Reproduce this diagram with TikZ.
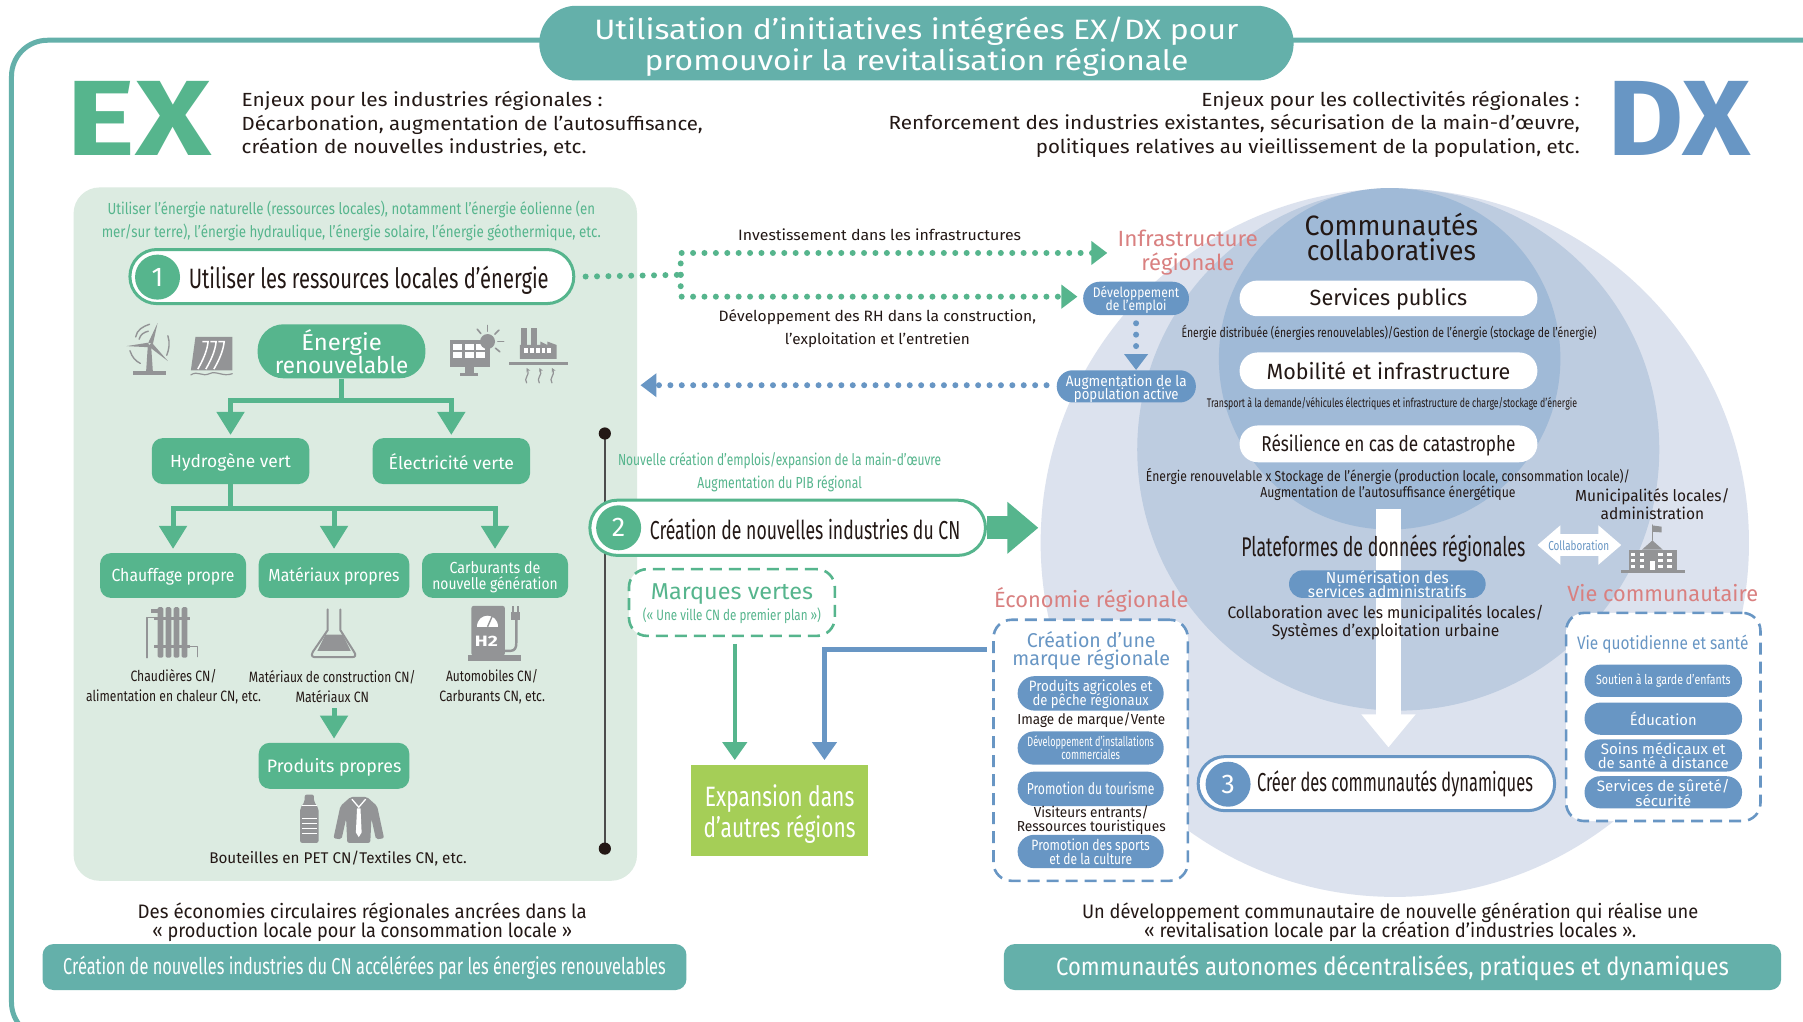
\documentclass[tikz,border=0pt]{standalone}
\usepackage{fontspec}
\usepackage{graphicx}
\setmainfont{Fira Sans}
\usetikzlibrary{arrows.meta,calc}
\definecolor{teal}{HTML}{64B0AA}
\definecolor{grn}{HTML}{56B58D}
\definecolor{panel}{HTML}{DCEBE1}
\definecolor{blu}{HTML}{6896C4}
\definecolor{pnk}{HTML}{D98080}
\definecolor{ink}{HTML}{231815}
\definecolor{icn}{HTML}{939496}
\definecolor{c1}{HTML}{DCE2EE}
\definecolor{c2}{HTML}{BDCCE0}
\definecolor{c3}{HTML}{A0BAD7}
\definecolor{lime}{HTML}{A5CE57}
\lineskiplimit=-100pt
\newsavebox\wbx
\def\wsh{0pt}
\newcommand\Sh[1]{\def\wsh{#1pt}}
\newcommand\W[2]{\sbox\wbx{#2}\pgfmathsetmacro\wrr{#1*1.15/\wd\wbx}\raisebox{-\wsh}[\ht\wbx][\dp\wbx]{\scalebox{\wrr}[1]{\usebox\wbx}}}
\newcommand\fs[2]{\fontsize{#1}{#2}\selectfont}
\tikzset{
  wh/.style 2 args={minimum width=#1*1.15pt,minimum height=#2*1.15pt},
  txt/.style={inner sep=0pt,align=center,text=ink},
  lbl/.style={txt,text=#1},
  fbox/.style 2 args={draw=none,fill=#1,inner sep=0pt,align=center,text=#2},
  gbox/.style 2 args={fbox={grn}{white},wh={#1}{#2},rounded corners=11pt},
  bpill/.style 2 args={fbox={blu}{white},wh={#1}{#2},rounded corners=#2*0.57pt},
  wpill/.style 2 args={fbox={white}{ink},wh={#1}{#2},rounded corners=#2*0.57pt},
  stepo/.style n args={3}{draw=#1,line width=3pt,fill=white,inner sep=0pt,align=center,text=ink,wh={#2}{#3},rounded corners=#3*0.57pt},
  numc/.style={circle,fill=#1,text=white,inner sep=0pt,minimum size=45pt,font=\fs{27}{27}},
  tree/.style={draw=grn,line width=5pt,-{Triangle[length=23pt,width=27pt]}},
  gdots/.style={draw=grn,line width=6pt,line cap=round,dash pattern=on 0pt off 11.4pt,-{Triangle[length=16pt,width=23pt]}},
  bdots/.style={draw=blu,line width=6pt,line cap=round,dash pattern=on 0pt off 11.4pt,-{Triangle[length=16pt,width=23pt]}},
  dashb/.style={draw=#1,line width=2.6pt,dash pattern=on 12pt off 7pt,fill=white,rounded corners=18pt,inner sep=0pt,align=center},
  icl/.style={draw=icn,line width=#1,line cap=round,line join=round},
}
\begin{document}
\begin{tikzpicture}[x=1.15pt,y=-1.15pt]
\useasboundingbox (0,0) rectangle (1568,888);
\fill[white] (0,0) rectangle (1568,888);
% frame
\draw[teal,line width=5pt,rounded corners=36pt] (10,35) rectangle (1600,903);
% title
\node[fbox={teal}{white},wh={656}{65},rounded corners=37pt,font=\Sh{3.4}\fs{28}{31.5}] (title) at (797,37.5) {\W{560}{Utilisation d'initiatives intégrées EX/DX pour}\\\W{473}{promouvoir la revitalisation régionale}};
% EX DX
\node[lbl=grn,font=\bfseries\fs{107}{107}] (ex) at (121,103) {\W{126}{EX}};
\node[lbl=blu,font=\bfseries\fs{107}{107}] (dx) at (1460,103) {\W{124}{DX}};
\node[txt,align=left,anchor=west,font=\fs{19}{23.6}] (hl) at (210,108) {\W{314}{Enjeux pour les industries régionales :}\\\W{401}{Décarbonation, augmentation de l'autosuffisance,}\\\W{300}{création de nouvelles industries, etc.}};
\node[txt,align=right,anchor=east,font=\fs{19}{23.6}] (hr) at (1374,108) {\W{329}{Enjeux pour les collectivités régionales :}\\\W{601}{Renforcement des industries existantes, sécurisation de la main-d'œuvre,}\\\W{473}{politiques relatives au vieillissement de la population, etc.}};
% circles
\fill[c1] (1213,472) circle (308);
\fill[c2] (1216,391) circle (227);
\fill[c3] (1208.5,312) circle (148.5);
% green panel
\fill[panel,rounded corners=26pt] (64,163) rectangle (554,766);
\node[lbl=grn,font=\fs{16}{23}] (ptop) at (305.5,192) {\W{424}{Utiliser l'énergie naturelle (ressources locales), notamment l'énergie éolienne (en}\\\W{434}{mer/sur terre), l'énergie hydraulique, l'énergie solaire, l'énergie géothermique, etc.}};
% vertical line
\coordinate (lt) at (526,377);
\coordinate (lb) at (526,738);
\draw[black!70,line width=2pt] (lt) -- (lb);
\fill[ink] (lt) circle (5.3);
\fill[ink] (lb) circle (5.3);
% step 1
\node[stepo={grn}{386}{47}] (s1) at (306,240.5) {};
\node[numc=grn] (n1) at (137,241) {1};
\node[txt,anchor=west,font=\fs{28}{28}] (s1t) at (164,244) {\W{313}{Utiliser les ressources locales d'énergie}};
% energy
\node[fbox={grn}{white},wh={146}{47},rounded corners=26pt,font=\fs{23}{23}] (enr) at (297,305.5) {\W{70}{Énergie}\\\W{116}{renouvelable}};
\node[gbox={137}{40},font=\Sh{1}\fs{17.5}{17}] (hyd) at (200.5,401) {\W{105}{Hydrogène vert}};
\node[gbox={137}{40},font=\Sh{1}\fs{17.5}{17}] (ele) at (392.5,401) {\W{109}{Électricité verte}};
\coordinate (j1) at (297,348);
\draw[tree,shorten >=3pt] (enr.south) -- (j1) -| (hyd.north);
\draw[tree,shorten >=3pt] (j1) -| (ele.north);
\node[gbox={127}{39},font=\Sh{1}\fs{17.5}{16}] (chf) at (150.5,500.5) {\W{107}{Chauffage propre}};
\node[gbox={131}{39},font=\Sh{1}\fs{17.5}{16}] (mat) at (290.5,500.5) {\W{114}{Matériaux propres}};
\node[gbox={127}{39},font=\Sh{2}\fs{16}{16}] (car) at (430.5,500.5) {\W{79}{Carburants de}\\\W{109}{nouvelle génération}};
\coordinate (j2) at (200.5,442);
\draw[tree,shorten >=4pt] (hyd.south) -- (j2) -| (chf.north);
\draw[tree,shorten >=4pt] (j2) -| (mat.north);
\draw[tree,shorten >=4pt] (j2) -| (car.north);
\node[txt,font=\fs{15}{20}] (lc) at (151,597) {\W{75}{Chaudières CN/}\\\W{152}{alimentation en chaleur CN, etc.}};
\node[txt,font=\fs{15}{20}] (lm) at (289,597) {\W{145}{Matériaux de construction CN/}\\\W{64}{Matériaux CN}};
\node[txt,font=\fs{15}{20}] (la) at (428,597) {\W{80}{Automobiles CN/}\\\W{92}{Carburants CN, etc.}};
\node[gbox={131}{40},font=\Sh{2}\fs{18}{17}] (pro) at (290.5,666) {\W{117}{Produits propres}};
\coordinate (ma) at (290.5,616);
\draw[tree,shorten >=4pt] (ma) -- (pro.north);
\node[txt,font=\fs{15.5}{15}] (lp) at (294,747) {\W{224}{Bouteilles en PET CN/Textiles CN, etc.}};
% --- icons: turbine
\fill[icn] (116,323) rectangle (144,326);
\fill[icn] (128.6,300) -- (131.4,300) -- (133,324) -- (127,324) -- cycle;
\fill[icn] (129,298) -- (137,281) -- (133,299) -- cycle;
\fill[icn] (129,298) -- (110,301) -- (130,302) -- cycle;
\fill[icn] (129,301) -- (146,314) -- (132,298) -- cycle;
\draw[icl=1.4pt] (118,293) .. controls (119,287) and (124,284) .. (130,282);
\draw[icl=1.4pt] (121,295) .. controls (122,291) and (125,289) .. (129,288);
\draw[icl=1.4pt] (146,292) .. controls (148,298) and (147,304) .. (145,309);
\draw[icl=1.4pt] (113,305) .. controls (115,311) and (118,314) .. (122,316);
% dam
\fill[icn] (170,293) -- (202,293) -- (202,322) -- (166,322) -- cycle;
\draw[white,line width=1.5pt] (176,297) -- (181,297) .. controls (180,306) and (176,314) .. (172,321);
\draw[white,line width=1.5pt] (183,297) -- (188,297) .. controls (187,306) and (183,314) .. (179,321);
\draw[white,line width=1.5pt] (190,297) -- (195,297) .. controls (194,306) and (190,314) .. (186,321);
\draw[icl=1.2pt] (166,326) .. controls (172,322) and (176,328) .. (182,325) .. controls (188,322) and (194,328) .. (202,325);
% solar
\fill[icn] (391,296) rectangle (426,319);
\fill[white] (394,299) rectangle (402,304); \fill[white] (404,299) rectangle (412,304); \fill[white] (414,299) rectangle (422,304);
\fill[white] (394,306) rectangle (402,311); \fill[white] (404,306) rectangle (412,311); \fill[white] (414,306) rectangle (422,311);
\fill[icn] (404,319) rectangle (412,324); \fill[icn] (400,324) rectangle (416,327);
\fill[icn] (424,297) circle (6.5);
\foreach \a in {-130,-90,-45,0,40} {\draw[icl=1.6pt] ($(424,297)+(\a:9)$) -- ($(424,297)+(\a:14)$);}
% factory
\fill[icn] (453,285) rectangle (458,302); \fill[icn] (462,285) rectangle (467,302);
\fill[icn] (452,300) -- (470,300) -- (470,297) -- (476,300) -- (476,297) -- (484,300) -- (484,312) -- (452,312) -- cycle;
\foreach \x in {456,461,466,471,476} {\fill[white] (\x,303) rectangle ++(3.2,4);}
\fill[icn] (443,314.5) rectangle (494,317);
\foreach \x in {458,469,480} {\draw[icl=1.2pt,-{Stealth[length=4pt,width=4pt]}] (\x,333) .. controls (\x-3,329) and (\x+3,326) .. (\x,320);}
% radiator
\foreach \x in {137,144,151,158} {\fill[icn,rounded corners=1.5pt] (\x,528) rectangle ++(5,44);}
\fill[icn] (134,537) rectangle (165,539.5); \fill[icn] (134,561) rectangle (165,563.5);
\draw[icl=1.4pt] (128,572) -- (128,537) -- (134,537);
\draw[icl=1.4pt] (165,562) -- (172,562) -- (172,571);
\fill[icn] (131,530) rectangle (137,533);
% flask
\draw[icl=2pt] (285,530) -- (285,548) -- (272,567) .. controls (270,571) and (272,571.5) .. (275,571.5) -- (306,571.5) .. controls (309,571.5) and (310,570) .. (308,567) -- (296,548) -- (296,530);
\fill[icn] (283,552) -- (298,552) -- (305,566) -- (276,566) -- cycle;
% pump
\fill[icn,rounded corners=2pt] (410,527) rectangle (439,570);
\fill[icn] (407,570) rectangle (453,574.5);
\fill[white] (415,545) .. controls (415,532) and (433,532) .. (433,545) -- cycle;
\draw[icn,line width=1.4pt] (424,545) -- (428,536);
\node[lbl=white,font=\bfseries\fs{15}{15}] (h2) at (423,558) {\W{20}{H2}};
\draw[icl=2.4pt] (439,566) -- (444,566) .. controls (448,566) and (449,563) .. (449,559) -- (449,538);
\fill[icn] (444,532) rectangle (452.5,539); \fill[icn] (445.5,527) rectangle (447,532); \fill[icn] (449.5,527) rectangle (451,532);
% bottle
\fill[icn,rounded corners=2pt] (261,703) -- (265,697) -- (265,691) -- (273,691) -- (273,697) -- (277,703) -- (277,733) -- (261,733) -- cycle;
\foreach \y in {700,711,716,720,724} {\fill[white] (262.5,\y) rectangle (275.5,\y+1);}
% shirt
\fill[icn,rounded corners=2pt] (305,693) -- (319,693) -- (328,701) -- (334,729) -- (327,730) -- (323,712) -- (322,733) -- (302,733) -- (301,712) -- (297,730) -- (290,729) -- (296,701) -- cycle;
\draw[white,line width=1.3pt] (306,695) -- (312,702) -- (318,695);
\fill[white] (310.5,703) -- (313.5,703) -- (314.5,724) -- (312,728) -- (309.5,724) -- cycle;
% dotted green
\coordinate (dj) at (592,239);
\coordinate (t1) at (963,220);
\coordinate (t2) at (937,258);
\draw[gdots,-] (s1.east) ++(9,0) -- (dj);
\draw[gdots] (dj) |- (t1);
\draw[gdots] (dj) |- (t2);
\node[txt,font=\fs{15}{15}] (inv) at (765,204) {\W{246}{Investissement dans les infrastructures}};
\node[txt,font=\fs{15}{23}] (rh) at (763,286) {\W{276}{Développement des RH dans la construction,}\\\W{161}{l'exploitation et l'entretien}};
\node[lbl=pnk,font=\fs{22}{24}] (inf) at (1033,220) {\W{122}{Infrastructure}\\\W{81}{régionale}};
\node[bpill={92}{29},font=\Sh{1}\fs{14}{13}] (dev) at (988,259.5) {\W{75}{Développement}\\\W{53}{de l'emploi}};
\node[bpill={121}{28},font=\Sh{2}\fs{15}{13}] (aug) at (979.5,336) {\W{105}{Augmentation de la}\\\W{91}{population active}};
\coordinate (bt) at (557,335);
\draw[bdots,shorten <=8pt] (dev.south) -- (aug.north -| dev.south);
\draw[bdots,shorten <=10pt] (aug.west |- bt) -- (bt);
% green texts
\node[lbl=grn,font=\fs{16}{23}] (nc) at (678,411) {\W{281}{Nouvelle création d'emplois/expansion de la main-d'œuvre}\\\W{143}{Augmentation du PIB régional}};
% step 2
\coordinate (bg) at (903,459);
\node[stepo={grn}{344}{48}] (s2) at (685,459) {};
\draw[grn,line width=23pt,-{Triangle[length=31pt,width=50pt]}] (s2.east) -- (bg);
\node[numc=grn] (n2) at (538,459) {2};
\node[txt,anchor=west,font=\fs{26}{26}] (s2t) at (565,460) {\W{270}{Création de nouvelles industries du CN}};
% marques
\node[dashb=grn,wh={179}{58},text=grn,font=\Sh{1.5}\fs{23}{21}] (mv) at (636.5,524) {\W{141}{Marques vertes}\\\W{155}{\fs{15}{21}(« Une ville CN de premier plan »)}};
% expansion
\node[fbox={lime}{white},wh={154}{79},font=\Sh{4}\fs{28}{31}] (exp) at (678,704.5) {\W{130}{Expansion dans}\\\W{132}{d'autres régions}};
\coordinate (ga) at (639,560);
\coordinate (gb) at (639,661);
\coordinate (ba) at (858,565);
\coordinate (bb) at (717,661);
\draw[grn,line width=4.5pt,-{Triangle[length=18pt,width=24pt]}] (ga) -- (gb);
\draw[blu,line width=4.5pt,-{Triangle[length=18pt,width=24pt]}] (ba) -| (bb);
% white arrow
\coordinate (wa) at (1207.5,443);
\coordinate (wb) at (1207.5,650);
\draw[white,line width=25pt,-{Triangle[length=33pt,width=52pt]}] (wa) -- (wb);
% communities
\node[txt,font=\fs{28}{25}] (com) at (1210,206.5) {\W{151}{Communautés}\\\W{147}{collaboratives}};
\node[wpill={259}{31},font=\Sh{1}\fs{22}{21}] (sp) at (1207.5,259.5) {\W{137}{Services publics}};
\node[txt,font=\fs{13.5}{13}] (sp2) at (1208,289) {\W{361}{Énergie distribuée (énergies renouvelables)/Gestion de l'énergie (stockage de l'énergie)}};
\node[wpill={259}{32},font=\fs{22}{21}] (mob) at (1207.5,322.5) {\W{212}{Mobilité et infrastructure}};
\node[txt,font=\fs{12.5}{12}] (mob2) at (1210.5,351) {\W{322}{Transport à la demande/véhicules électriques et infrastructure de charge/stockage d'énergie}};
\node[wpill={259}{32},font=\Sh{1}\fs{21.5}{20}] (res) at (1207.5,386) {\W{221}{Résilience en cas de catastrophe}};
\node[txt,font=\fs{14.5}{16}] (res2) at (1207,421) {\W{421}{Énergie renouvelable x Stockage de l'énergie (production locale, consommation locale)/}\\\W{222}{Augmentation de l'autosuffisance énergétique}};
\node[txt,font=\fs{27}{24}] (pla) at (1203,477) {\W{247}{Plateformes de données régionales}};
\node[bpill={171}{24},font=\fs{16}{14}] (num) at (1206.5,508) {\W{107}{Numérisation des}\\\W{138}{services administratifs}};
\node[txt,font=\fs{16.5}{17.5}] (col) at (1205,541.5) {\W{275}{Collaboration avec les municipalités locales/}\\\W{198}{Systèmes d'exploitation urbaine}};
\node[txt,font=\fs{16}{17.5}] (mun) at (1437,438.5) {\W{134.5}{Municipalités locales/}\\\W{90}{administration}};
% school
\fill[icn] (1416.5,478) rectangle (1458,496);
\fill[icn] (1428,478) -- (1437,470) -- (1446,478) -- cycle;
\fill[icn] (1410,496) rectangle (1465,498);
\draw[icl=1pt] (1437,470) -- (1437,456.5);
\fill[icn] (1437.5,457) -- (1445,458) -- (1445,463) -- (1437.5,462.5) -- cycle;
\foreach \x in {1421,1429,1445,1453} {\foreach \y in {481,486.5,491.5} {\fill[white] (\x-3,\y) rectangle (\x+1,\y+2.5);}}
\fill[white] (1435,488) rectangle (1439,496);
% collaboration arrow
\coordinate (cl) at (1337,474);
\coordinate (cr) at (1410,474);
\draw[white,line width=22pt,{Triangle[length=23pt,width=38pt]}-{Triangle[length=23pt,width=38pt]}] (cl) -- (cr);
\node[lbl=blu,font=\fs{13}{12}] (cb) at (1373,474) {\W{53}{Collaboration}};
% regional economy
\node[lbl=pnk,font=\fs{22}{22}] (eco) at (949,522) {\W{169}{Économie régionale}};
\node[dashb=blu,wh={169}{227}] (ebox) at (948.5,652.5) {};
\node[lbl=blu,font=\fs{20}{18.4}] (eh) at (949,566) {\W{112}{Création d'une}\\\W{137}{marque régionale}};
\node[bpill={127}{30},font=\Sh{1}\fs{15}{14}] (e1) at (948.5,603) {\W{107.5}{Produits agricoles et}\\\W{101}{de pêche régionaux}};
\node[txt,font=\fs{14.5}{14}] (e1b) at (949,626) {\W{128.6}{Image de marque/Vente}};
\node[bpill={127}{29},font=\fs{13.5}{13}] (e2) at (948.5,650.5) {\W{110}{Développement d'installations}\\\W{51}{commerciales}};
\node[bpill={127}{30},font=\fs{16}{15}] (e3) at (948.5,686) {\W{111}{Promotion du tourisme}};
\node[txt,font=\fs{14.5}{14}] (e3b) at (949,713) {\W{100}{Visiteurs entrants/}\\\W{129.5}{Ressources touristiques}};
\node[bpill={127}{29},font=\fs{15}{14}] (e4) at (948.5,740.5) {\W{103}{Promotion des sports}\\\W{72}{et de la culture}};
% community life
\node[lbl=pnk,font=\fs{22}{22}] (vie) at (1446,516) {\W{166}{Vie communautaire}};
\node[dashb=blu,wh={169}{181}] (vbox) at (1446.5,623.5) {};
\node[lbl=blu,font=\fs{18}{17}] (vh) at (1446,560) {\W{149}{Vie quotidienne et santé}};
\node[bpill={137}{28},font=\fs{13.5}{13}] (v1) at (1446.5,592) {\W{117}{Soutien à la garde d'enfants}};
\node[bpill={137}{28},font=\fs{15}{15}] (v2) at (1446.5,625) {\W{58}{Éducation}};
\node[bpill={137}{28},font=\fs{15}{14.5}] (v3) at (1446.5,657) {\W{108.5}{Soins médicaux et}\\\W{114}{de santé à distance}};
\node[bpill={137}{28},font=\Sh{1}\fs{15}{14.5}] (v4) at (1446.5,689) {\W{115.5}{Services de sûreté/}\\\W{48.6}{sécurité}};
% step 3
\node[stepo={blu}{310}{47}] (s3) at (1197,681.5) {};
\node[numc=blu] (n3) at (1068,682) {3};
\node[txt,anchor=west,font=\fs{26}{26}] (s3t) at (1093,682) {\W{240}{Créer des communautés dynamiques}};
% bottom
\node[txt,font=\fs{19.5}{18.4}] (bl) at (315,802) {\W{390.5}{Des économies circulaires régionales ancrées dans la}\\\W{365}{« production locale pour la consommation locale »}};
\node[fbox={teal}{white},wh={560}{40},rounded corners=11pt,font=\Sh{1}\fs{23}{20}] (bb1) at (317,841) {\W{524}{Création de nouvelles industries du CN accélérées par les énergies renouvelables}};
\node[txt,font=\fs{19.5}{18.4}] (br) at (1209,802) {\W{536}{Un développement communautaire de nouvelle génération qui réalise une}\\\W{428}{« revitalisation locale par la création d'industries locales ».}};
\node[fbox={teal}{white},wh={676}{40},rounded corners=11pt,font=\Sh{1}\fs{25}{23}] (bb2) at (1211,841) {\W{585}{Communautés autonomes décentralisées, pratiques et dynamiques}};
\end{tikzpicture}
\end{document}
